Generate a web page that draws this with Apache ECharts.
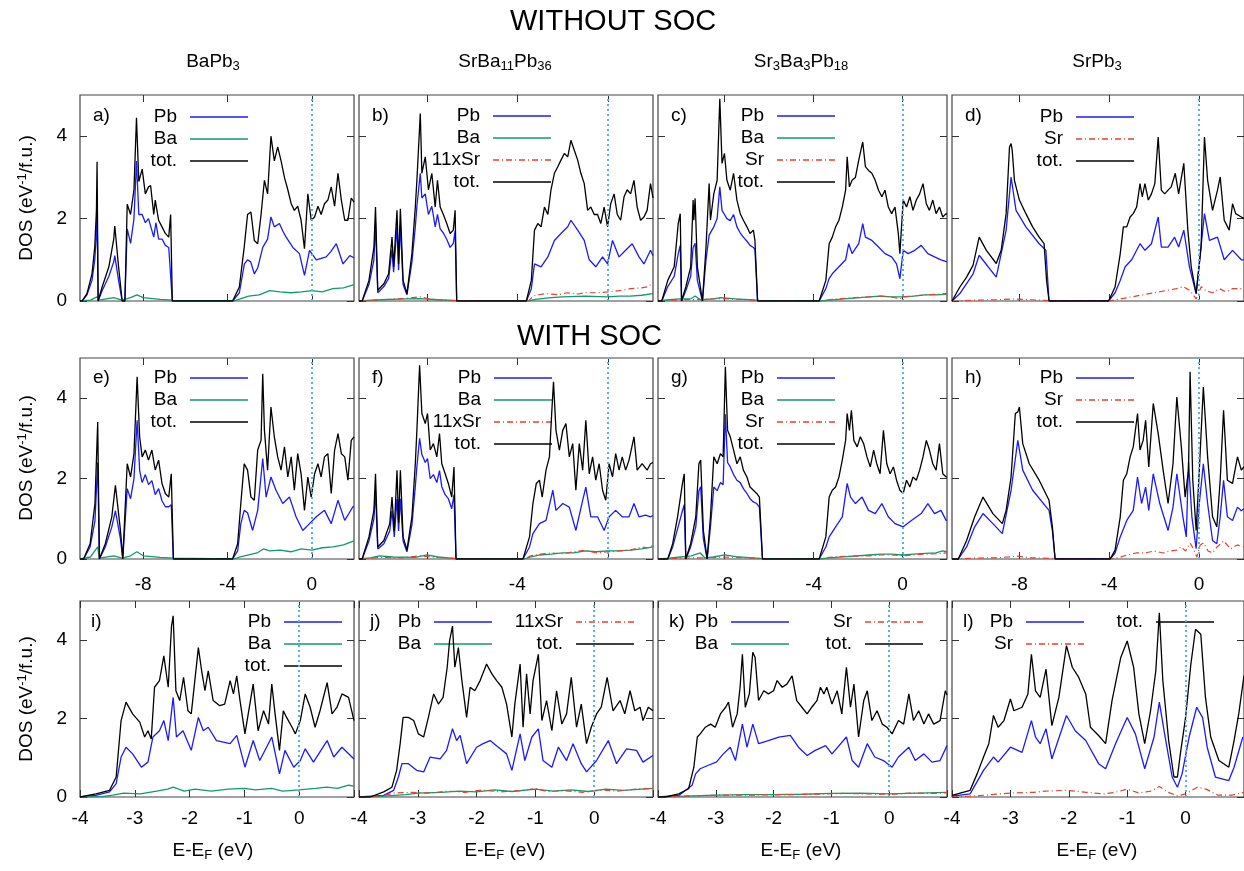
<!DOCTYPE html>
<html>
<head>
<meta charset="utf-8">
<script src="https://cdn.jsdelivr.net/npm/echarts@6/dist/echarts.min.js"></script>
<style>
html,body{margin:0;padding:0;background:#fff}
#chart{width:1244px;height:871px}
</style>
</head>
<body>
<div id="chart"></div>
<script>
// ---- data: [E - E_F (eV), DOS (1/eV/f.u.)] ----
// WITHOUT SOC, wide window
var aTot = [[-11,0],[-10.9,0],[-10.67,0.18],[-10.43,0.66],[-10.3,1.31],[-10.22,2.2],[-10.19,3.38],[-10.14,0],[-9.95,0.34],[-9.63,0.83],[-9.4,1.5],[-9.35,1.82],[-9.17,0.83],[-9.0,0],[-8.87,0],[-8.76,2.35],[-8.6,2.1],[-8.44,2.7],[-8.32,4.45],[-8.21,2.9],[-8.05,3.2],[-7.9,2.6],[-7.75,2.77],[-7.65,2.8],[-7.5,2.1],[-7.43,2.45],[-7.27,1.96],[-7.11,1.8],[-6.95,1.64],[-6.79,1.55],[-6.7,2.1],[-6.62,0],
  [-3.76,0],[-3.44,0.34],[-3.21,1.3],[-3.05,2.1],[-2.89,2.16],[-2.73,1.47],[-2.57,1.39],[-2.41,2.1],[-2.25,2.93],[-2.1,2.6],[-1.94,4.0],[-1.78,3.4],[-1.62,3.74],[-1.46,3.4],[-1.3,3.0],[-1.14,2.7],[-0.98,2.36],[-0.83,2.2],[-0.67,2.3],[-0.51,1.96],[-0.35,1.27],[-0.19,2.6],[-0.03,1.96],[0.13,2.04],[0.29,2.3],[0.44,2.1],[0.6,2.36],[0.76,2.45],[0.92,2.77],[1.08,2.3],[1.24,3.1],[1.4,2.45],[1.56,1.96],[1.71,1.96],[1.87,2.5],[2.0,2.4]];
var aPb = [[-11,0],[-10.9,0],[-10.67,0.15],[-10.43,0.5],[-10.3,1.0],[-10.22,1.6],[-10.19,2.36],[-10.14,0],[-9.95,0.25],[-9.63,0.6],[-9.4,0.95],[-9.35,1.1],[-9.17,0.5],[-9.0,0],[-8.87,0],[-8.76,1.75],[-8.6,1.4],[-8.44,2.0],[-8.32,3.4],[-8.21,2.1],[-8.05,2.1],[-7.9,1.9],[-7.75,2.0],[-7.5,1.55],[-7.4,1.9],[-7.27,1.5],[-7.1,1.5],[-6.95,1.35],[-6.79,1.3],[-6.7,1.3],[-6.62,0],
  [-3.76,0],[-3.44,0.2],[-3.2,0.9],[-3.05,1.0],[-2.9,0.95],[-2.73,0.66],[-2.57,0.8],[-2.33,1.3],[-2.1,1.5],[-1.94,2.04],[-1.78,1.8],[-1.54,1.88],[-1.38,1.7],[-1.22,1.55],[-0.9,1.3],[-0.59,1.15],[-0.35,0.62],[-0.11,1.23],[0.21,1.0],[0.68,1.07],[0.9,1.2],[1.16,1.39],[1.48,0.9],[1.8,1.1],[2.0,1.05]];
var aBa = [[-11,0],[-10.5,0.02],[-10.2,0.1],[-10.1,0.02],[-9.4,0.08],[-9.0,0.02],[-8.6,0.08],[-8.3,0.15],[-8.0,0.08],[-7.2,0.04],[-6.62,0.02],[-6.5,0],[-3.7,0],[-3.4,0.05],[-3.0,0.12],[-2.5,0.15],[-2.0,0.25],[-1.5,0.22],[-1.0,0.2],[-0.5,0.22],[0,0.25],[0.5,0.22],[1.0,0.3],[1.5,0.32],[2.0,0.4]];

var bTot = [[-11,0],[-10.86,0],[-10.56,0.5],[-10.34,1.3],[-10.27,2.28],[-10.17,0.26],[-9.9,0.42],[-9.69,0.66],[-9.54,1.55],[-9.47,0.83],[-9.32,2.2],[-9.25,0.9],[-9.17,2.24],[-9.05,0.5],[-8.88,0.18],[-8.66,1.15],[-8.51,2.28],[-8.44,2.93],[-8.29,4.55],[-8.22,3.1],[-8.07,3.5],[-7.93,2.7],[-7.78,3.1],[-7.63,2.28],[-7.53,2.93],[-7.41,2.28],[-7.27,2.1],[-7.12,1.88],[-6.97,1.64],[-6.83,1.72],[-6.75,2.2],[-6.68,0],
  [-3.6,0],[-3.38,0.5],[-3.24,1.72],[-3.09,1.88],[-2.95,1.8],[-2.8,2.28],[-2.65,2.1],[-2.51,2.7],[-2.36,3.1],[-2.21,3.26],[-2.07,3.42],[-1.92,3.58],[-1.77,3.5],[-1.63,3.9],[-1.48,3.66],[-1.33,3.42],[-1.19,3.1],[-1.04,2.85],[-0.89,2.2],[-0.75,2.28],[-0.6,2.1],[-0.45,2.1],[-0.31,1.88],[-0.16,2.28],[-0.01,1.8],[0.13,2.36],[0.28,2.6],[0.42,2.1],[0.57,1.96],[0.72,2.53],[0.86,2.7],[1.01,2.6],[1.16,2.93],[1.3,2.28],[1.45,1.96],[1.6,2.04],[1.74,2.2],[1.89,2.85],[2.0,2.5]];
var bPb = [[-11,0],[-10.86,0],[-10.56,0.4],[-10.34,1.0],[-10.27,1.9],[-10.17,0.2],[-9.9,0.35],[-9.69,0.55],[-9.54,1.25],[-9.47,0.7],[-9.32,1.8],[-9.25,0.75],[-9.17,1.85],[-9.05,0.4],[-8.88,0.15],[-8.66,0.95],[-8.51,1.8],[-8.44,2.3],[-8.29,3.1],[-8.22,2.5],[-8.07,2.6],[-7.93,2.1],[-7.78,2.3],[-7.63,1.8],[-7.53,2.1],[-7.41,1.75],[-7.27,1.65],[-7.12,1.5],[-6.97,1.3],[-6.83,1.4],[-6.75,1.7],[-6.68,0],
  [-3.6,0],[-3.38,0.3],[-3.24,0.9],[-2.95,0.83],[-2.65,1.07],[-2.36,1.47],[-2.07,1.64],[-1.77,1.8],[-1.63,1.96],[-1.33,1.72],[-1.04,1.47],[-0.82,1.0],[-0.53,0.83],[-0.23,1.07],[-0.01,0.9],[0.21,1.47],[0.5,1.07],[0.79,1.23],[1.08,1.39],[1.38,1.07],[1.6,0.9],[1.89,1.23],[2.0,1.1]];
var bBa = [[-11,0],[-10,0.03],[-9,0.05],[-8.3,0.06],[-7.5,0.03],[-6.68,0.01],[-6.6,0],[-3.5,0],[-3.2,0.04],[-2.5,0.08],[-2,0.1],[-1,0.12],[0,0.1],[0.5,0.12],[1,0.12],[1.5,0.14],[2,0.18]];
var bSr = [[-11,0],[-10,0.03],[-9,0.06],[-8.3,0.1],[-7.8,0.04],[-6.68,0.01],[-6.6,0],[-3.5,0],[-3.3,0.12],[-3.1,0.15],[-2.7,0.18],[-2.2,0.15],[-1.8,0.2],[-1.3,0.17],[-1,0.2],[-0.5,0.2],[0,0.22],[0.5,0.25],[1,0.3],[1.5,0.32],[1.8,0.35],[2,0.45]];

var cTot = [[-11,0],[-10.83,0],[-10.56,0.5],[-10.27,0.83],[-10.09,1.88],[-10.0,2.12],[-9.94,0],[-9.75,0.34],[-9.53,0.83],[-9.42,2.45],[-9.39,1.96],[-9.33,2.49],[-9.23,0.83],[-9.0,0],[-8.84,1.31],[-8.7,2.85],[-8.64,1.96],[-8.49,2.6],[-8.34,2.93],[-8.22,4.91],[-8.12,3.34],[-8.01,3.58],[-7.9,2.93],[-7.75,2.69],[-7.6,3.1],[-7.45,2.45],[-7.3,2.12],[-7.16,1.96],[-7.0,1.8],[-6.86,1.64],[-6.71,1.72],[-6.64,1.47],[-6.52,0],
  [-3.75,0],[-3.45,0.5],[-3.3,1.39],[-3.16,1.55],[-3.01,1.8],[-2.86,1.96],[-2.71,2.28],[-2.56,2.69],[-2.49,3.5],[-2.39,2.77],[-2.27,2.93],[-2.12,3.0],[-1.97,3.42],[-1.79,3.86],[-1.67,3.26],[-1.53,3.17],[-1.38,3.1],[-1.23,2.93],[-1.08,2.69],[-0.93,2.53],[-0.79,2.69],[-0.64,2.28],[-0.49,2.12],[-0.34,2.28],[-0.19,1.64],[-0.12,1.15],[0.03,2.45],[0.18,2.28],[0.33,2.53],[0.47,2.2],[0.62,2.45],[0.77,2.6],[0.92,2.85],[1.07,2.36],[1.21,2.2],[1.36,2.45],[1.51,2.12],[1.66,2.28],[1.81,2.04],[1.96,2.12],[2.0,2.1]];
var cPb = [[-11,0],[-10.83,0],[-10.56,0.35],[-10.27,0.6],[-10.09,1.15],[-10.0,1.35],[-9.94,0],[-9.75,0.25],[-9.53,0.6],[-9.42,1.3],[-9.33,1.4],[-9.23,0.5],[-9.0,0],[-8.84,1.0],[-8.7,1.6],[-8.49,1.8],[-8.34,2.0],[-8.22,2.77],[-8.12,2.2],[-8.01,2.1],[-7.9,2.0],[-7.75,1.95],[-7.6,2.1],[-7.45,1.8],[-7.3,1.65],[-7.16,1.55],[-7.0,1.45],[-6.86,1.35],[-6.71,1.3],[-6.64,1.25],[-6.52,0],
  [-3.75,0],[-3.45,0.3],[-3.3,0.55],[-3.16,0.66],[-2.86,0.83],[-2.56,1.0],[-2.42,1.39],[-2.27,1.15],[-1.97,1.39],[-1.79,1.88],[-1.67,1.55],[-1.38,1.47],[-1.08,1.31],[-0.79,1.15],[-0.49,1.07],[-0.27,0.9],[-0.12,0.54],[0.03,1.23],[0.25,1.15],[0.55,1.23],[0.84,1.35],[1.14,1.15],[1.44,1.07],[1.73,1.0],[2.0,0.95]];
var cBa = [[-11,0],[-10.5,0.03],[-10.0,0.05],[-9.5,0.06],[-9.33,0.12],[-9.1,0.03],[-8.5,0.05],[-8.2,0.08],[-7.5,0.05],[-6.52,0.02],[-6.4,0],[-3.7,0],[-3.3,0.02],[-2.5,0.06],[-1.5,0.1],[-1,0.12],[-0.5,0.1],[0,0.1],[0.5,0.12],[1.0,0.15],[1.5,0.15],[2,0.16]];
var cSr = [[-11,0],[-10,0.03],[-9,0.04],[-8.2,0.06],[-7,0.03],[-6.52,0.01],[-6.4,0],[-3.7,0],[-3.3,0.03],[-2.5,0.07],[-1.5,0.1],[-1,0.12],[-0.5,0.1],[-0.1,0.05],[0,0.1],[0.5,0.12],[1,0.15],[1.5,0.16],[2,0.18]];

var dTot = [[-11,0],[-10.94,0],[-10.65,0.34],[-10.35,0.58],[-10.06,0.87],[-9.79,1.55],[-9.47,1.23],[-9.03,0.91],[-8.81,1.23],[-8.59,2.12],[-8.44,3.74],[-8.37,3.82],[-8.32,3.66],[-8.22,2.93],[-8.0,2.45],[-7.71,2.12],[-7.41,1.8],[-7.12,1.55],[-6.9,1.39],[-6.79,0.5],[-6.68,0],
  [-4.03,0],[-3.74,0.34],[-3.51,1.15],[-3.37,1.8],[-3.22,1.8],[-3.07,2.04],[-2.93,2.12],[-2.78,2.28],[-2.63,2.85],[-2.53,2.53],[-2.41,2.85],[-2.26,2.45],[-2.12,2.6],[-1.97,2.85],[-1.82,3.98],[-1.68,2.69],[-1.53,2.6],[-1.38,2.69],[-1.24,2.77],[-1.06,3.1],[-0.91,2.6],[-0.68,3.34],[-0.5,1.72],[-0.35,0.83],[-0.13,0.18],[0.09,1.31],[0.24,3.98],[0.38,2.93],[0.6,2.2],[0.82,2.69],[0.94,3.01],[1.12,1.96],[1.34,1.72],[1.49,2.36],[1.63,2.12],[1.88,2.04],[2.0,2.0]];
var dPb = [[-11,0],[-10.94,0],[-10.65,0.18],[-10.06,0.66],[-9.79,1.11],[-9.03,0.58],[-8.59,1.72],[-8.44,2.6],[-8.37,3.01],[-8.15,2.2],[-7.71,1.8],[-7.12,1.39],[-6.82,1.23],[-6.68,0],
  [-4.03,0],[-3.74,0.2],[-3.51,0.5],[-3.29,0.83],[-3.0,1.0],[-2.63,1.39],[-2.41,1.23],[-2.12,1.39],[-1.82,2.04],[-1.68,1.31],[-1.38,1.31],[-1.09,1.55],[-0.91,1.31],[-0.68,1.72],[-0.43,0.83],[-0.13,0.18],[0.24,2.12],[0.46,1.47],[0.82,1.55],[1.12,1.0],[1.49,1.23],[1.88,1.0],[2.0,1.0]];
var dSr = [[-11,0],[-10,0.02],[-9,0.03],[-8.3,0.05],[-7.5,0.03],[-6.68,0.01],[-6.6,0],[-4.0,0],[-3.5,0.05],[-3.0,0.1],[-2.5,0.15],[-2.0,0.2],[-1.5,0.25],[-1.0,0.3],[-0.7,0.35],[-0.4,0.25],[-0.13,0.05],[0.1,0.35],[0.3,0.25],[0.6,0.2],[0.9,0.3],[1.2,0.22],[1.5,0.3],[2,0.3]];

// WITH SOC, wide window
var eTot = [[-11,0],[-10.83,0],[-10.52,0.38],[-10.29,1.38],[-10.16,3.41],[-10.08,0],[-9.8,0.38],[-9.49,1.05],[-9.32,1.83],[-9.08,0.71],[-8.97,0],[-8.76,2.37],[-8.6,2.04],[-8.44,2.62],[-8.29,4.53],[-8.17,3.04],[-8.05,2.54],[-7.9,2.71],[-7.75,2.46],[-7.59,2.71],[-7.43,2.21],[-7.27,2.46],[-7.11,1.88],[-6.95,1.63],[-6.79,1.54],[-6.67,2.12],[-6.57,0],
  [-3.76,0],[-3.52,0.38],[-3.37,1.38],[-3.21,2.37],[-3.05,2.21],[-2.89,1.54],[-2.73,1.46],[-2.57,2.71],[-2.41,2.95],[-2.33,4.61],[-2.25,3.2],[-2.1,2.21],[-1.94,3.78],[-1.78,3.04],[-1.62,2.54],[-1.46,2.21],[-1.3,2.79],[-1.14,2.04],[-0.98,2.54],[-0.83,1.71],[-0.67,2.62],[-0.51,2.12],[-0.35,1.21],[-0.19,2.04],[-0.03,1.54],[0.13,2.12],[0.29,2.37],[0.44,2.04],[0.6,2.54],[0.76,2.62],[0.92,1.63],[1.08,2.71],[1.24,3.12],[1.4,2.62],[1.56,2.54],[1.71,1.96],[1.87,2.95],[2.0,3.04]];
var ePb = [[-11,0],[-10.83,0],[-10.52,0.3],[-10.29,0.95],[-10.16,2.4],[-10.08,0],[-9.8,0.3],[-9.49,0.8],[-9.32,1.2],[-9.08,0.5],[-8.97,0],[-8.76,1.75],[-8.6,1.5],[-8.44,2.0],[-8.29,3.45],[-8.17,2.2],[-8.05,1.9],[-7.9,2.1],[-7.75,1.85],[-7.59,1.95],[-7.43,1.6],[-7.27,1.75],[-7.11,1.45],[-6.95,1.3],[-6.79,1.3],[-6.67,1.35],[-6.57,0],
  [-3.76,0],[-3.52,0.2],[-3.37,0.88],[-3.21,1.21],[-3.05,1.15],[-2.81,0.71],[-2.57,1.21],[-2.33,2.5],[-2.17,1.54],[-1.94,2.04],[-1.7,1.71],[-1.38,1.38],[-1.06,1.54],[-0.75,1.05],[-0.43,0.71],[-0.11,0.88],[0.21,1.05],[0.6,1.21],[0.92,0.88],[1.24,1.46],[1.56,0.96],[1.95,1.3],[2.0,1.3]];
var eBa = [[-11,0],[-10.5,0.05],[-10.16,0.3],[-10.08,0.02],[-9.4,0.08],[-9.0,0.02],[-8.6,0.08],[-8.3,0.18],[-8.0,0.08],[-7.2,0.04],[-6.57,0.02],[-6.5,0],[-3.7,0],[-3.4,0.05],[-3.0,0.1],[-2.6,0.15],[-2.3,0.25],[-2.0,0.2],[-1.5,0.22],[-1.0,0.18],[-0.5,0.25],[0,0.22],[0.5,0.28],[1.0,0.3],[1.5,0.35],[2.0,0.45]];

var fTot = [[-11,0],[-10.86,0],[-10.56,0.55],[-10.34,1.21],[-10.27,2.12],[-10.17,0.3],[-9.9,0.46],[-9.64,0.88],[-9.54,1.54],[-9.44,0.7],[-9.32,2.21],[-9.25,0.9],[-9.17,2.21],[-9.05,0.55],[-8.88,0.22],[-8.66,1.05],[-8.51,2.37],[-8.44,3.2],[-8.32,4.82],[-8.22,3.62],[-8.07,3.37],[-7.97,3.62],[-7.85,2.71],[-7.71,2.87],[-7.56,2.54],[-7.44,3.12],[-7.34,2.37],[-7.19,2.12],[-7.05,1.88],[-6.9,1.54],[-6.8,2.29],[-6.71,0],
  [-3.75,0],[-3.46,0.55],[-3.31,1.38],[-3.16,1.88],[-3.02,1.96],[-2.9,1.54],[-2.73,2.21],[-2.58,2.54],[-2.48,3.62],[-2.4,4.41],[-2.29,3.2],[-2.14,2.71],[-1.99,3.2],[-1.85,3.37],[-1.7,2.54],[-1.55,2.87],[-1.41,1.71],[-1.26,2.87],[-1.11,2.21],[-0.97,3.45],[-0.82,2.12],[-0.67,2.54],[-0.53,1.96],[-0.38,2.37],[-0.23,1.71],[-0.09,1.46],[0.06,2.37],[0.21,2.04],[0.35,2.62],[0.5,2.21],[0.64,2.54],[0.79,2.21],[0.94,2.46],[1.16,3.04],[1.3,2.21],[1.52,2.37],[1.74,2.21],[1.89,2.37],[2.0,2.4]];
var fPb = [[-11,0],[-10.86,0],[-10.56,0.45],[-10.34,1.0],[-10.27,1.7],[-10.17,0.25],[-9.9,0.38],[-9.64,0.7],[-9.54,1.2],[-9.44,0.55],[-9.32,1.5],[-9.25,0.7],[-9.17,1.5],[-9.05,0.45],[-8.88,0.18],[-8.66,0.85],[-8.51,1.8],[-8.44,2.3],[-8.32,3.0],[-8.22,2.6],[-8.07,2.4],[-7.97,2.5],[-7.85,2.0],[-7.71,2.1],[-7.56,1.9],[-7.44,2.2],[-7.34,1.8],[-7.19,1.6],[-7.05,1.5],[-6.9,1.25],[-6.8,1.6],[-6.71,0],
  [-3.75,0],[-3.46,0.3],[-3.31,0.63],[-3.02,0.88],[-2.73,0.96],[-2.43,1.71],[-2.29,1.21],[-1.99,1.38],[-1.7,1.29],[-1.41,0.71],[-1.11,1.46],[-0.97,1.79],[-0.75,1.05],[-0.45,1.05],[-0.16,0.71],[0.06,1.05],[0.35,1.21],[0.64,1.05],[0.94,1.05],[1.16,1.38],[1.38,1.05],[1.67,1.09],[1.89,1.05],[2.0,1.08]];
var fBa = [[-11,0],[-10.5,0.03],[-10.1,0.08],[-9.5,0.05],[-8.5,0.04],[-8.0,0.1],[-7.5,0.05],[-6.71,0.01],[-6.6,0],[-3.7,0],[-3.4,0.05],[-3.0,0.1],[-2.5,0.12],[-2.0,0.15],[-1.5,0.15],[-1.0,0.2],[-0.5,0.18],[0,0.2],[0.5,0.2],[1.0,0.22],[1.5,0.25],[2.0,0.3]];
var fSr = [[-11,0],[-10.5,0.02],[-10,0.04],[-9,0.03],[-8.3,0.08],[-7.8,0.05],[-6.71,0.01],[-6.6,0],[-3.7,0],[-3.4,0.08],[-3.0,0.12],[-2.5,0.15],[-2.0,0.13],[-1.5,0.18],[-1.0,0.22],[-0.5,0.15],[0,0.18],[0.5,0.2],[1.0,0.22],[1.5,0.3],[1.8,0.28],[2.0,0.35]];

var gTot = [[-11,0],[-10.56,0],[-10.34,0.38],[-10.12,1.05],[-9.9,1.88],[-9.82,2.12],[-9.75,0],[-9.53,0.38],[-9.3,1.05],[-9.16,2.37],[-9.08,2.46],[-8.96,0.71],[-8.79,0],[-8.64,1.05],[-8.49,2.54],[-8.34,2.37],[-8.19,2.62],[-8.07,2.54],[-7.97,4.78],[-7.87,3.2],[-7.75,3.04],[-7.6,2.71],[-7.45,2.37],[-7.3,2.54],[-7.16,2.21],[-7.0,2.04],[-6.86,1.79],[-6.71,1.71],[-6.56,1.63],[-6.44,1.54],[-6.3,0],
  [-3.75,0],[-3.45,0.55],[-3.3,1.54],[-3.16,1.71],[-3.01,1.79],[-2.86,2.04],[-2.71,2.46],[-2.56,2.95],[-2.49,3.62],[-2.39,3.2],[-2.3,3.7],[-2.19,2.95],[-2.04,2.79],[-1.9,3.04],[-1.75,2.87],[-1.6,2.54],[-1.45,2.29],[-1.3,2.71],[-1.16,2.37],[-1.01,2.12],[-0.86,3.2],[-0.71,2.37],[-0.56,2.12],[-0.41,2.29],[-0.27,1.96],[-0.12,1.71],[0.03,1.63],[0.18,1.96],[0.33,1.79],[0.47,2.04],[0.62,1.96],[0.77,2.21],[0.92,2.54],[1.07,2.95],[1.21,2.71],[1.36,2.37],[1.51,2.21],[1.66,2.87],[1.81,2.12],[1.96,2.04],[2.0,2.05]];
var gPb = [[-11,0],[-10.56,0],[-10.34,0.3],[-10.12,0.75],[-9.9,1.2],[-9.82,1.35],[-9.75,0],[-9.53,0.3],[-9.3,0.8],[-9.16,1.7],[-9.08,1.8],[-8.96,0.5],[-8.79,0],[-8.64,0.8],[-8.49,1.79],[-8.34,1.7],[-8.19,1.9],[-8.07,1.85],[-7.97,3.6],[-7.87,2.4],[-7.75,2.29],[-7.6,2.1],[-7.45,1.96],[-7.3,1.9],[-7.16,1.75],[-7.0,1.63],[-6.86,1.5],[-6.71,1.42],[-6.56,1.38],[-6.44,1.29],[-6.3,0],
  [-3.75,0],[-3.45,0.3],[-3.3,0.55],[-3.01,0.8],[-2.71,1.05],[-2.49,1.88],[-2.34,1.54],[-2.12,1.38],[-1.82,1.54],[-1.53,1.21],[-1.23,1.13],[-0.93,1.38],[-0.64,1.05],[-0.34,0.88],[0.03,0.8],[0.4,0.96],[0.84,1.13],[1.14,1.38],[1.44,1.13],[1.73,1.21],[1.96,0.96],[2.0,0.96]];
var gBa = [[-11,0],[-10.5,0.02],[-10,0.05],[-9.5,0.08],[-9.1,0.15],[-8.9,0.03],[-8.5,0.05],[-8.0,0.1],[-7.5,0.06],[-6.3,0.01],[-6.2,0],[-3.7,0],[-3.3,0.03],[-2.5,0.06],[-1.5,0.1],[-1.0,0.12],[-0.5,0.12],[0,0.1],[0.5,0.12],[1.0,0.14],[1.5,0.15],[1.8,0.2],[2.0,0.18]];
var gSr = [[-11,0],[-10,0.02],[-9,0.03],[-8.0,0.05],[-7,0.03],[-6.3,0.01],[-6.2,0],[-3.7,0],[-3.3,0.04],[-2.5,0.07],[-1.5,0.08],[-1.0,0.1],[-0.5,0.1],[0,0.08],[0.5,0.1],[1.0,0.12],[1.5,0.13],[2.0,0.15]];

var hTot = [[-11,0],[-10.72,0],[-10.35,0.46],[-9.99,1.05],[-9.62,1.54],[-9.18,1.13],[-8.76,0.88],[-8.59,1.21],[-8.37,2.04],[-8.18,3.62],[-8.07,3.66],[-8.0,3.78],[-7.85,2.87],[-7.56,2.37],[-7.12,1.96],[-6.68,1.46],[-6.53,0.8],[-6.41,0],
  [-3.96,0],[-3.74,0.22],[-3.51,1.05],[-3.37,1.96],[-3.22,2.12],[-3.07,2.54],[-2.93,2.79],[-2.74,3.62],[-2.63,2.71],[-2.49,2.95],[-2.38,3.45],[-2.24,2.29],[-2.04,3.87],[-1.82,3.12],[-1.6,2.21],[-1.38,1.38],[-1.16,2.37],[-0.99,4.03],[-0.79,2.79],[-0.62,1.54],[-0.47,2.21],[-0.4,4.66],[-0.28,1.96],[-0.13,0.71],[0.01,2.21],[0.19,4.28],[0.38,2.54],[0.6,1.05],[0.79,0.8],[0.94,1.96],[1.09,3.7],[1.26,1.96],[1.49,1.88],[1.71,2.54],[1.88,2.21],[2.0,2.3]];
var hPb = [[-11,0],[-10.72,0],[-10.35,0.3],[-9.99,0.8],[-9.62,1.13],[-9.18,0.88],[-8.76,0.63],[-8.37,1.71],[-8.07,2.95],[-7.85,2.21],[-7.41,1.71],[-6.68,1.21],[-6.53,0.7],[-6.41,0],
  [-3.96,0],[-3.74,0.15],[-3.51,0.55],[-3.22,0.96],[-2.93,1.21],[-2.74,2.04],[-2.56,1.38],[-2.38,1.79],[-2.24,1.21],[-2.04,2.12],[-1.75,1.38],[-1.38,0.71],[-1.16,1.29],[-0.99,2.12],[-0.72,1.05],[-0.57,0.55],[-0.47,2.41],[-0.32,1.05],[-0.13,0.26],[0.01,1.38],[0.19,2.37],[0.38,1.38],[0.6,0.46],[0.79,0.38],[0.94,1.05],[1.09,1.96],[1.26,1.05],[1.49,0.96],[1.71,1.29],[1.88,1.2],[2.0,1.25]];
var hSr = [[-11,0],[-10,0.02],[-9,0.03],[-8.07,0.07],[-7.5,0.03],[-6.41,0.01],[-6.3,0],[-3.9,0],[-3.6,0.03],[-3.2,0.1],[-2.8,0.15],[-2.4,0.15],[-2.0,0.2],[-1.6,0.15],[-1.3,0.2],[-1.0,0.22],[-0.8,0.3],[-0.6,0.2],[-0.4,0.4],[-0.25,0.25],[-0.1,0.05],[0.05,0.35],[0.2,0.4],[0.4,0.2],[0.6,0.15],[0.8,0.3],[1.1,0.45],[1.4,0.25],[1.7,0.35],[2.0,0.3]];

// WITH SOC, window around E_F
var iTot = [[-4,0],[-3.71,0.08],[-3.46,0.17],[-3.34,0.51],[-3.25,1.95],[-3.16,2.42],[-3.04,2.12],[-2.91,1.91],[-2.82,1.53],[-2.76,1.69],[-2.7,1.48],[-2.64,2.8],[-2.55,2.97],[-2.47,3.6],[-2.39,2.8],[-2.33,4.36],[-2.3,4.62],[-2.25,2.71],[-2.18,2.46],[-2.11,3.05],[-2.03,2.2],[-1.97,2.12],[-1.84,3.81],[-1.78,3.22],[-1.72,2.71],[-1.66,3.22],[-1.57,2.46],[-1.45,2.33],[-1.36,2.37],[-1.26,2.97],[-1.2,2.63],[-1.14,3.09],[-1.08,2.46],[-0.99,1.61],[-0.93,2.12],[-0.84,2.88],[-0.75,1.69],[-0.65,2.2],[-0.56,1.86],[-0.5,2.88],[-0.44,2.12],[-0.36,1.19],[-0.29,2.2],[-0.23,2.03],[-0.13,1.78],[-0.07,1.61],[0.02,1.95],[0.11,2.63],[0.2,2.29],[0.29,1.78],[0.38,2.2],[0.51,2.92],[0.6,2.12],[0.69,2.29],[0.78,2.63],[0.9,2.54],[1.0,1.95]];
var iPb = [[-4,0],[-3.71,0.04],[-3.46,0.13],[-3.34,0.34],[-3.25,1.02],[-3.16,1.27],[-3.04,1.1],[-2.88,0.76],[-2.76,0.89],[-2.67,1.53],[-2.55,1.69],[-2.47,1.95],[-2.39,1.44],[-2.3,2.54],[-2.24,1.53],[-2.12,1.69],[-1.97,1.19],[-1.84,2.03],[-1.75,1.69],[-1.66,1.78],[-1.51,1.44],[-1.26,1.36],[-1.14,1.57],[-0.99,0.76],[-0.84,1.44],[-0.72,0.93],[-0.5,1.53],[-0.36,0.59],[-0.26,1.19],[-0.1,0.76],[0.02,0.93],[0.11,1.23],[0.26,0.89],[0.51,1.44],[0.63,1.02],[0.78,1.27],[1.0,0.97]];
var iBa = [[-4,0],[-3.6,0.01],[-3.4,0.05],[-3.2,0.1],[-2.9,0.08],[-2.6,0.15],[-2.4,0.2],[-2.3,0.25],[-2.1,0.15],[-1.9,0.2],[-1.6,0.15],[-1.3,0.2],[-1.0,0.22],[-0.8,0.18],[-0.5,0.22],[-0.3,0.15],[0,0.18],[0.3,0.22],[0.5,0.25],[0.7,0.22],[0.9,0.3],[1.0,0.28]];

var jTot = [[-4,0],[-3.81,0],[-3.58,0.13],[-3.44,0.25],[-3.36,0.68],[-3.3,1.36],[-3.25,2.03],[-3.16,2.03],[-3.07,1.95],[-2.99,1.61],[-2.9,1.53],[-2.82,2.03],[-2.73,2.63],[-2.65,2.37],[-2.57,2.54],[-2.5,3.31],[-2.46,3.98],[-2.41,4.36],[-2.37,3.31],[-2.31,3.81],[-2.25,2.97],[-2.17,2.03],[-2.11,2.8],[-2.03,2.71],[-1.94,2.97],[-1.83,3.39],[-1.74,3.14],[-1.66,2.97],[-1.57,2.8],[-1.49,2.37],[-1.4,1.53],[-1.35,2.37],[-1.26,3.39],[-1.21,1.78],[-1.15,3.14],[-1.09,2.12],[-1.04,2.97],[-0.95,3.64],[-0.89,1.95],[-0.81,2.46],[-0.72,1.69],[-0.64,2.71],[-0.55,1.86],[-0.47,2.12],[-0.39,3.05],[-0.3,1.78],[-0.22,2.37],[-0.13,1.36],[-0.05,1.78],[0.04,2.12],[0.12,2.29],[0.22,3.05],[0.32,2.2],[0.44,2.46],[0.52,2.12],[0.61,2.71],[0.69,2.2],[0.78,2.29],[0.83,1.95],[0.92,2.29],[1.0,2.2]];
var jPb = [[-4,0],[-3.58,0.04],[-3.41,0.17],[-3.33,0.51],[-3.27,0.85],[-3.16,0.85],[-3.02,0.68],[-2.9,0.64],[-2.79,1.02],[-2.62,0.97],[-2.51,1.19],[-2.41,1.74],[-2.34,1.44],[-2.28,1.57],[-2.17,0.85],[-2.0,1.27],[-1.89,1.36],[-1.77,1.44],[-1.63,1.27],[-1.49,1.1],[-1.4,0.68],[-1.26,1.61],[-1.18,0.93],[-1.06,1.53],[-0.95,1.74],[-0.87,0.93],[-0.72,0.76],[-0.61,1.27],[-0.47,0.93],[-0.36,1.36],[-0.22,0.85],[-0.13,0.64],[0.04,0.93],[0.24,1.44],[0.38,0.85],[0.55,1.23],[0.72,1.19],[0.83,0.89],[1.0,1.06]];
var jBa = [[-4,0],[-3.7,0.01],[-3.4,0.04],[-3.2,0.06],[-3.0,0.1],[-2.6,0.12],[-2.3,0.15],[-2.0,0.13],[-1.7,0.18],[-1.4,0.14],[-1.0,0.2],[-0.7,0.15],[-0.4,0.18],[-0.1,0.14],[0.2,0.2],[0.5,0.17],[0.8,0.2],[1.0,0.22]];
var jSr = [[-4,0],[-3.6,0.03],[-3.4,0.1],[-3.1,0.12],[-2.8,0.1],[-2.5,0.15],[-2.2,0.12],[-1.9,0.18],[-1.6,0.13],[-1.2,0.17],[-1.0,0.22],[-0.8,0.14],[-0.5,0.16],[-0.2,0.12],[0.1,0.18],[0.4,0.15],[0.7,0.2],[1.0,0.22]];

var kTot = [[-4,0],[-3.87,0],[-3.64,0.08],[-3.47,0.21],[-3.38,0.76],[-3.32,1.53],[-3.27,1.61],[-3.18,1.78],[-3.09,1.86],[-3.01,1.78],[-2.92,2.12],[-2.83,2.29],[-2.78,2.42],[-2.71,1.78],[-2.63,2.12],[-2.58,2.8],[-2.54,3.64],[-2.49,2.29],[-2.42,2.63],[-2.36,3.69],[-2.32,3.56],[-2.26,2.46],[-2.17,2.71],[-2.09,2.63],[-2.0,2.71],[-1.94,2.97],[-1.85,2.8],[-1.77,2.88],[-1.68,3.09],[-1.6,2.46],[-1.51,2.29],[-1.42,2.12],[-1.34,2.29],[-1.25,2.46],[-1.19,2.8],[-1.13,2.63],[-1.08,2.8],[-0.99,2.37],[-0.9,2.71],[-0.82,2.12],[-0.74,3.31],[-0.67,2.29],[-0.61,2.88],[-0.53,1.53],[-0.44,2.46],[-0.38,2.71],[-0.3,1.95],[-0.21,2.2],[-0.12,1.86],[-0.04,1.78],[0.05,1.61],[0.16,1.95],[0.25,1.86],[0.34,2.63],[0.42,1.95],[0.51,2.2],[0.6,1.86],[0.68,2.12],[0.77,1.86],[0.88,1.95],[0.97,2.71],[1.0,2.6]];
var kPb = [[-4,0],[-3.64,0.04],[-3.41,0.3],[-3.35,0.59],[-3.27,0.72],[-3.13,0.81],[-2.99,0.89],[-2.87,1.1],[-2.75,1.27],[-2.66,0.93],[-2.54,1.86],[-2.46,1.27],[-2.36,1.86],[-2.26,1.36],[-2.09,1.44],[-1.91,1.53],[-1.71,1.57],[-1.57,1.27],[-1.42,1.06],[-1.28,1.19],[-1.1,1.31],[-0.99,1.1],[-0.74,1.53],[-0.64,0.93],[-0.53,0.76],[-0.38,1.36],[-0.25,1.02],[-0.1,0.93],[0.05,0.76],[0.16,1.02],[0.34,1.27],[0.45,0.93],[0.6,1.1],[0.74,0.89],[0.88,0.93],[1.0,1.31]];
var kBa = [[-4,0],[-3.7,0.01],[-3.4,0.03],[-3.0,0.05],[-2.5,0.06],[-2.0,0.06],[-1.5,0.07],[-1.0,0.09],[-0.5,0.1],[0,0.08],[0.5,0.1],[1.0,0.12]];
var kSr = [[-4,0],[-3.6,0.02],[-3.2,0.04],[-2.8,0.05],[-2.3,0.05],[-1.8,0.06],[-1.3,0.07],[-0.8,0.09],[-0.4,0.08],[0,0.07],[0.4,0.1],[0.8,0.09],[1.0,0.11]];

var lTot = [[-4,0.04],[-3.69,0.17],[-3.57,0.59],[-3.46,1.02],[-3.37,1.36],[-3.29,2.08],[-3.21,1.78],[-3.11,1.95],[-3.0,2.5],[-2.94,2.2],[-2.8,2.29],[-2.7,2.63],[-2.64,3.64],[-2.57,2.71],[-2.49,2.54],[-2.39,3.26],[-2.29,1.82],[-2.17,2.54],[-2.04,3.86],[-1.94,3.31],[-1.83,3.05],[-1.71,2.63],[-1.63,1.78],[-1.49,1.57],[-1.37,1.36],[-1.26,2.46],[-1.11,3.56],[-1.0,3.98],[-0.89,3.31],[-0.8,2.12],[-0.7,1.36],[-0.6,2.2],[-0.51,3.22],[-0.45,4.7],[-0.39,2.97],[-0.29,1.44],[-0.2,0.51],[-0.14,0.51],[-0.09,1.1],[0,2.03],[0.09,3.39],[0.17,4.28],[0.26,4.15],[0.34,2.54],[0.43,1.53],[0.57,0.93],[0.74,0.76],[0.83,1.44],[0.91,2.12],[1.0,3.1]];
var lPb = [[-4,0.02],[-3.69,0.08],[-3.46,0.68],[-3.29,1.02],[-3.21,0.89],[-3.0,1.27],[-2.8,1.14],[-2.64,1.95],[-2.57,1.53],[-2.49,1.36],[-2.39,1.74],[-2.29,0.97],[-2.04,2.08],[-1.89,1.69],[-1.71,1.44],[-1.49,0.85],[-1.37,0.72],[-1.2,1.36],[-1.0,2.03],[-0.86,1.61],[-0.7,0.72],[-0.54,1.53],[-0.45,2.42],[-0.35,1.53],[-0.23,0.51],[-0.14,0.25],[-0.06,0.59],[0.06,1.53],[0.19,2.29],[0.29,2.03],[0.37,1.27],[0.51,0.51],[0.74,0.42],[0.83,0.76],[0.98,1.53]];
var lSr = [[-4,0],[-3.7,0.02],[-3.4,0.05],[-3.0,0.1],[-2.6,0.12],[-2.4,0.15],[-2.04,0.17],[-1.7,0.12],[-1.4,0.08],[-1.2,0.12],[-1.0,0.2],[-0.8,0.1],[-0.6,0.15],[-0.45,0.27],[-0.3,0.12],[-0.14,0.03],[0,0.08],[0.2,0.25],[0.35,0.2],[0.55,0.05],[0.8,0.05],[1.0,0.12]];

// ticks and text
var wideTicks = [-8, -4, 0];
var zoomTicks = [-4, -3, -2, -1, 0, 1];
var zoomLabels = [-4, -3, -2, -1, 0];
var dosTicks = [0, 2, 4];
var compounds = ['BaPb{s|3}', 'SrBa{s|11}Pb{s|36}', 'Sr{s|3}Ba{s|3}Pb{s|18}', 'SrPb{s|3}'];
var rowTitles = ['WITHOUT SOC', 'WITH SOC'];

// ---- layout (px) ----
var cols = [{left:80,width:274},{left:359,width:294},{left:658,width:289},{left:952,width:295}];
var rows = [{top:95,height:206},{top:358,height:201},{top:601,height:196}];
var FONT = 'Liberation Sans, Arial, Helvetica, sans-serif';

var styles = {
  'Pb':   {color:'#1a1aff', type:'solid', width:1.3},
  'Ba':   {color:'#119a6c', type:'solid', width:1.3},
  'Sr':   {color:'#e8402e', type:[6,3,1,3], width:1.2},
  '11xSr':{color:'#e8402e', type:[6,3,1,3], width:1.2},
  'tot.': {color:'#000000', type:'solid', width:1.3}
};

var panels = [
  {tag:'a)', r:0, c:0, lines:[['Pb',aPb],['Ba',aBa],['tot.',aTot]], leg:[[177,117,['Pb','Ba','tot.']]]},
  {tag:'b)', r:0, c:1, lines:[['Pb',bPb],['Ba',bBa],['11xSr',bSr],['tot.',bTot]], leg:[[480,116,['Pb','Ba','11xSr','tot.']]]},
  {tag:'c)', r:0, c:2, lines:[['Pb',cPb],['Ba',cBa],['Sr',cSr],['tot.',cTot]], leg:[[764,116,['Pb','Ba','Sr','tot.']]]},
  {tag:'d)', r:0, c:3, lines:[['Pb',dPb],['Sr',dSr],['tot.',dTot]], leg:[[1063,117,['Pb','Sr','tot.']]]},
  {tag:'e)', r:1, c:0, lines:[['Pb',ePb],['Ba',eBa],['tot.',eTot]], leg:[[177,378,['Pb','Ba','tot.']]]},
  {tag:'f)', r:1, c:1, lines:[['Pb',fPb],['Ba',fBa],['11xSr',fSr],['tot.',fTot]], leg:[[481,378,['Pb','Ba','11xSr','tot.']]]},
  {tag:'g)', r:1, c:2, lines:[['Pb',gPb],['Ba',gBa],['Sr',gSr],['tot.',gTot]], leg:[[764,378,['Pb','Ba','Sr','tot.']]]},
  {tag:'h)', r:1, c:3, lines:[['Pb',hPb],['Sr',hSr],['tot.',hTot]], leg:[[1063,378,['Pb','Sr','tot.']]]},
  {tag:'i)', r:2, c:0, lines:[['Pb',iPb],['Ba',iBa],['tot.',iTot]], leg:[[271,622,['Pb','Ba','tot.']]]},
  {tag:'j)', r:2, c:1, lines:[['Pb',jPb],['Ba',jBa],['11xSr',jSr],['tot.',jTot]], leg:[[421,622,['Pb','Ba']],[563,622,['11xSr','tot.']]]},
  {tag:'k)', r:2, c:2, lines:[['Pb',kPb],['Ba',kBa],['Sr',kSr],['tot.',kTot]], leg:[[718,622,['Pb','Ba']],[852,622,['Sr','tot.']]]},
  {tag:'l)', r:2, c:3, lines:[['Pb',lPb],['Sr',lSr],['tot.',lTot]], leg:[[1013,622,['Pb','Sr']],[1143,622,['tot.']]]}
];

// tiny helper so the axis configs read like the rest
function extend(a, b){ for(var k in b){ a[k] = b[k]; } return a; }

function buildOption(){
  var grid = [], xAxis = [], yAxis = [], series = [], graphic = [];
  var labelStyle = {color:'#000', fontSize:19, fontFamily:FONT};
  var noLine = {show:false, onZero:false};

  panels.forEach(function(p, i){
    var col = cols[p.c], row = rows[p.r];
    var zoomed = p.r == 2;
    grid.push({left:col.left, top:row.top, width:col.width, height:row.height,
      show:true, borderColor:'#444', borderWidth:1.2, backgroundColor:'transparent', containLabel:false});

    var xMin = zoomed ? -4 : -11, xMax = zoomed ? 1 : 2;
    var xt = zoomed ? zoomTicks : wideTicks;
    var showX = p.r >= 1;
    xAxis.push({type:'value', gridIndex:i, min:xMin, max:xMax, position:'bottom',
      axisLine:noLine, splitLine:{show:false},
      axisTick:{show:true, inside:true, length:7, customValues:xt, lineStyle:{color:'#333'}},
      axisLabel:extend({show:showX, margin:zoomed ? 12 : 16, customValues:zoomed ? zoomLabels : wideTicks}, labelStyle)});
    yAxis.push({type:'value', gridIndex:i, min:0, max:5, position:'left',
      axisLine:noLine, splitLine:{show:false},
      axisTick:{show:true, inside:true, length:7, customValues:dosTicks, lineStyle:{color:'#333'}},
      axisLabel:extend({show:p.c == 0, margin:13, customValues:dosTicks}, labelStyle)});

    p.lines.forEach(function(l){
      var st = styles[l[0]];
      var s = {type:'line', name:l[0], xAxisIndex:i, yAxisIndex:i, data:l[1],
        showSymbol:false, symbol:'none', clip:true, silent:true, animation:false,
        lineStyle:{color:st.color, width:st.width, type:st.type}};
      if(l[0] == 'tot.'){
        s.markLine = {silent:true, symbol:'none', animation:false, label:{show:false},
          lineStyle:{color:'#56b4e9', type:[2,3], width:2}, data:[{xAxis:0}]};
      }
      series.push(s);
    });

    // panel tag
    graphic.push({type:'text', x:col.left + (zoomed ? 11 : 13), y:(p.r == 0 ? 116 : (p.r == 1 ? 378 : 622)),
      style:{text:p.tag, fontSize:19, fontFamily:FONT, fill:'#000', align:'left', verticalAlign:'middle'}});

    // key
    p.leg.forEach(function(b){
      b[2].forEach(function(name, k){
        var st = styles[name], y = b[1] + k * 22;
        graphic.push({type:'text', x:b[0], y:y,
          style:{text:name, fontSize:19, fontFamily:FONT, fill:'#000', align:'right', verticalAlign:'middle'}});
        graphic.push({type:'line', shape:{x1:b[0] + 13, y1:y, x2:b[0] + 71, y2:y},
          style:{stroke:st.color, lineWidth:st.width + 0.4, lineDash:st.type == 'solid' ? null : st.type}});
      });
    });
  });

  // mirrored ticks on the right and top
  panels.forEach(function(p, i){
    var zoomed = p.r == 2;
    xAxis.push({type:'value', gridIndex:i, min:zoomed ? -4 : -11, max:zoomed ? 1 : 2, position:'top',
      axisLine:noLine, splitLine:{show:false}, axisLabel:{show:false},
      axisTick:{show:true, inside:true, length:7, customValues:zoomed ? zoomTicks : wideTicks, lineStyle:{color:'#333'}}});
    yAxis.push({type:'value', gridIndex:i, min:0, max:5, position:'right',
      axisLine:noLine, splitLine:{show:false}, axisLabel:{show:false},
      axisTick:{show:true, inside:true, length:7, customValues:dosTicks, lineStyle:{color:'#333'}}});
  });

  var rich = {s:{fontSize:13, fontFamily:FONT, padding:[9,0,0,0]}, u:{fontSize:13, fontFamily:FONT, padding:[0,0,9,0]}};
  graphic.push({type:'text', x:510, y:22, style:{text:rowTitles[0], fontSize:29, fontFamily:FONT, fill:'#000', align:'left', verticalAlign:'middle'}});
  graphic.push({type:'text', x:517, y:337, style:{text:rowTitles[1], fontSize:29, fontFamily:FONT, fill:'#000', align:'left', verticalAlign:'middle'}});
  var titleX = [213, 505, 801, 1097];
  compounds.forEach(function(t, k){
    graphic.push({type:'text', x:titleX[k], y:62, style:{text:t, rich:rich, fontSize:19, fontFamily:FONT, fill:'#000', align:'center', verticalAlign:'middle'}});
    graphic.push({type:'text', x:titleX[k], y:851, style:{text:'E-E{s|F} (eV)', rich:rich, fontSize:19, fontFamily:FONT, fill:'#000', align:'center', verticalAlign:'middle'}});
  });
  [198, 458, 699].forEach(function(yc){
    graphic.push({type:'text', x:27, y:yc, rotation:Math.PI / 2,
      style:{text:'DOS (eV{u|-1}/f.u.)', rich:rich, fontSize:19, fontFamily:FONT, fill:'#000', align:'center', verticalAlign:'middle'}});
  });

  return {backgroundColor:'#fff', animation:false, grid:grid, xAxis:xAxis, yAxis:yAxis, series:series, graphic:graphic};
}

var chart = echarts.init(document.getElementById('chart'), null, {renderer:'canvas'});
chart.setOption(buildOption());
</script>
</body>
</html>
